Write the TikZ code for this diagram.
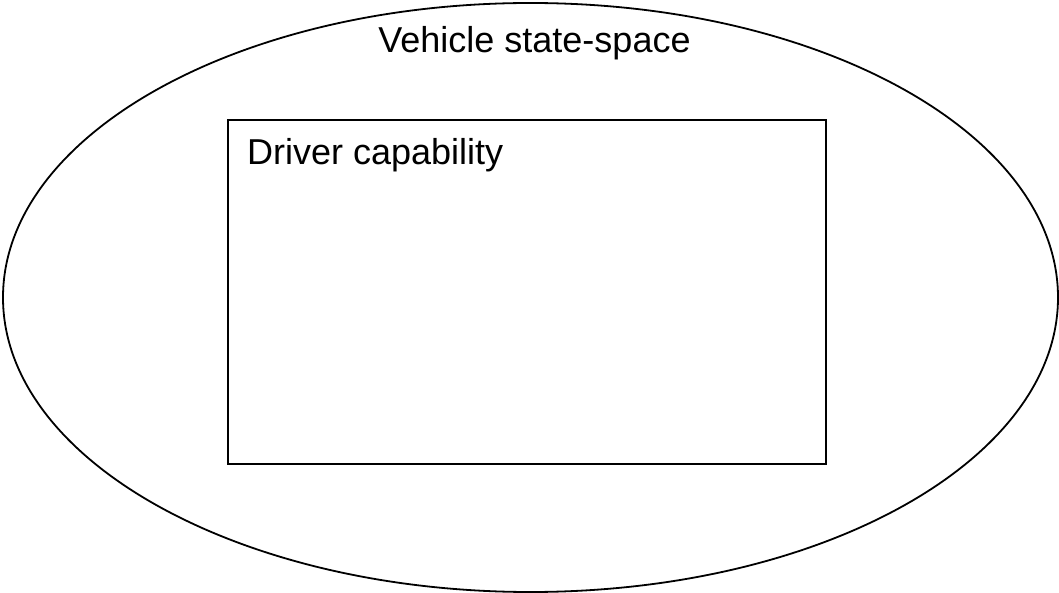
\documentclass[tikz,border=0pt]{standalone}
\usepackage{fontspec}
\setmainfont{Liberation Sans}
\begin{document}
\begin{tikzpicture}[x=1pt,y=-1pt,
  shape line/.style={draw=black,line width=1.8pt},
  lbl/.style={inner sep=0pt,font=\fontsize{36}{42}\selectfont}]
\useasboundingbox (0,0) rectangle (1059,593);
\draw[shape line] (530.5,297.5) ellipse [x radius=527.5, y radius=294.5];
\node[shape line, minimum width=598pt, minimum height=344pt, inner sep=0pt] (box) at (527,292) {};
\node[lbl, anchor=base] (vss) at (534.5,53) {Vehicle state-space};
\node[lbl, anchor=base west] (dc) at (247,165) {Driver capability};
\end{tikzpicture}
\end{document}
